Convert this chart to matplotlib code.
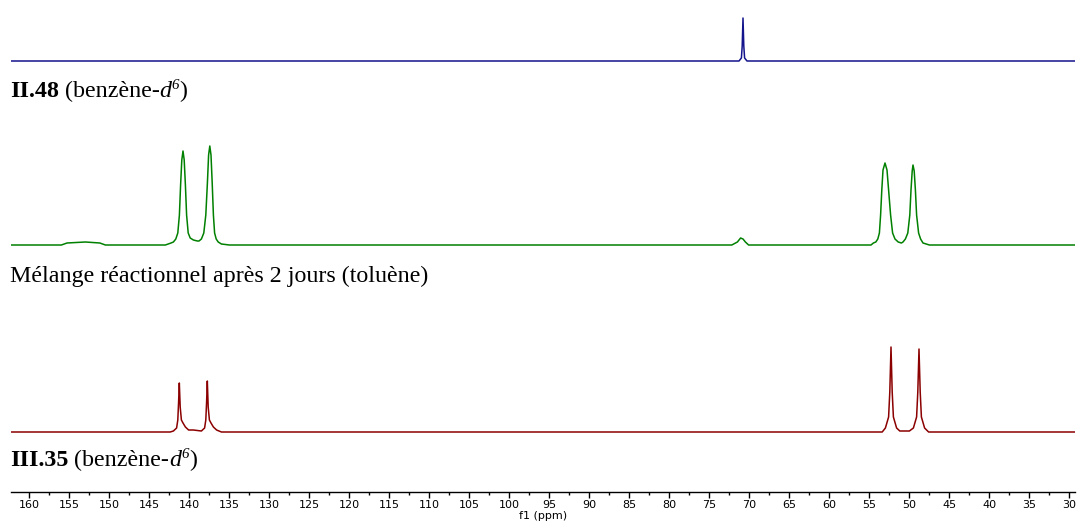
import numpy as np
import matplotlib
matplotlib.use("Agg")
import matplotlib.pyplot as plt

plt.rcParams['font.family'] = ['Liberation Serif', 'DejaVu Serif']

# --- Data: 13C spectra, vertices (ppm, intensity) ---
x_left, x_right = 162.3, 29.3

# II.48 (benzene-d6): single line near 71 ppm
blue_ppm = [162.3, 71.3, 71.0, 70.9, 70.8, 70.7, 70.6, 70.3, 29.3]
blue_int = [0.0,   0.0,  3.0,  15.0, 43.0, 15.0, 3.0,  0.0,  0.0]

# reaction mixture after 2 days (toluene)
green_ppm = [162.3, 156.0, 155.3, 153.0, 151.2, 150.5, 143.0,
             142.3, 142.0, 141.7, 141.45, 141.25, 141.1, 140.95, 140.8,
             140.65, 140.5, 140.35, 140.15, 139.9, 139.5, 139.0,
             138.8, 138.5, 138.2, 137.95, 137.75, 137.6, 137.45, 137.3,
             137.15, 137.0, 136.85, 136.65, 136.4, 136.0, 135.0,
             72.2, 71.5, 71.1, 70.8, 70.5, 70.1, 69.4,
             54.8, 54.5, 54.2, 53.95, 53.75, 53.6, 53.45, 53.3, 53.05, 52.8, 52.6,
             52.35, 52.1, 51.8, 51.4, 51.0,
             50.8, 50.5, 50.2, 49.95, 49.8, 49.65, 49.55, 49.4, 49.25, 49.1,
             48.85, 48.6, 48.3, 47.5, 29.3]
green_int = [0.0, 0.0, 2.0, 3.0, 2.0, 0.0, 0.0,
             2.0, 3.0, 6.0, 12.0, 30.0, 60.0, 85.0, 94.0,
             85.0, 60.0, 30.0, 12.0, 7.0, 5.0, 4.0,
             4.0, 6.0, 12.0, 30.0, 62.0, 90.0, 99.0, 90.0,
             62.0, 30.0, 12.0, 6.0, 3.0, 1.0, 0.0,
             0.0, 3.0, 7.0, 6.0, 3.0, 0.0, 0.0,
             0.0, 2.0, 3.0, 6.0, 12.0, 30.0, 55.0, 75.0, 82.0, 75.0, 55.0,
             30.0, 12.0, 6.0, 3.0, 2.0,
             3.0, 6.0, 12.0, 30.0, 55.0, 74.0, 80.0, 74.0, 55.0, 30.0,
             12.0, 6.0, 2.0, 0.0, 0.0]

# III.35 (benzene-d6)
red_ppm = [162.3, 142.4,
           142.0, 141.6, 141.45, 141.35, 141.26, 141.15, 141.0, 140.8, 140.5, 140.1,
           139.5,
           138.5, 138.1, 137.95, 137.85, 137.76, 137.65, 137.5, 137.3, 137.0, 136.6,
           136.0,
           53.4, 53.0, 52.6, 52.45, 52.3, 52.15, 52.0, 51.6, 51.2,
           50.0, 49.5, 49.1, 48.95, 48.8, 48.65, 48.5, 48.1, 47.6,
           29.3]
red_int = [0.0, 0.0,
           1.0, 4.0, 12.0, 30.0, 49.0, 25.0, 12.0, 9.0, 5.0, 2.0,
           2.0,
           1.0, 4.0, 12.0, 30.0, 51.0, 25.0, 12.0, 9.0, 5.0, 2.0,
           0.0,
           0.0, 4.0, 15.0, 40.0, 85.0, 40.0, 15.0, 4.0, 1.0,
           1.0, 4.0, 15.0, 40.0, 83.0, 40.0, 15.0, 4.0, 0.0,
           0.0]

assert len(blue_ppm) == len(blue_int)
assert len(green_ppm) == len(green_int)
assert len(red_ppm) == len(red_int)

# label pieces: (text, weight, style, superscript)
labels = [
    [("II.48", 'bold', 'normal', False), (" (benzène-", 'normal', 'normal', False),
     ("d", 'normal', 'italic', False), ("6", 'normal', 'italic', True),
     (")", 'normal', 'normal', False)],
    [("Mélange réactionnel après 2 jours (toluène)", 'normal', 'normal', False)],
    [("III.35", 'bold', 'normal', False), (" (benzène-", 'normal', 'normal', False),
     ("d", 'normal', 'italic', False), ("6", 'normal', 'italic', True),
     (")", 'normal', 'normal', False)],
]
label_baselines = [97, 282, 466]   # pixels from top

# --- Figure ---
W, H = 1078, 523
fig = plt.figure(figsize=(W / 100, H / 100), dpi=100)
ax = fig.add_axes([11 / W, 31 / H, (1075 - 11) / W, (H - 31) / H])

traces = [
    (blue_ppm, blue_int, 431, '#14148c'),
    (green_ppm, green_int, 247, '#008000'),
    (red_ppm, red_int, 60, '#8b0000'),
]
for ppm, inten, offset, color in traces:
    ax.plot(ppm, np.array(inten) + offset, color=color, linewidth=1.1)

ax.set_xlim(x_left, x_right)
ax.set_ylim(0, H - 31)

for s in ['top', 'left', 'right']:
    ax.spines[s].set_visible(False)
ax.spines['bottom'].set_linewidth(1.0)
ax.set_yticks([])
ax.set_xticks(np.arange(30, 161, 5))
ax.set_xticks(np.arange(32.5, 161, 5), minor=True)
ax.tick_params(axis='x', which='major', length=4, width=1, pad=1.5,
               labelsize=8, labelfontfamily='DejaVu Sans')
ax.tick_params(axis='x', which='minor', length=2.5, width=1)
ax.set_xlabel('f1 (ppm)', fontsize=8, family='DejaVu Sans', va='center')
ax.xaxis.set_label_coords(0.5, -0.048)
ax.set_facecolor('none')

# sample labels, built piece by piece
renderer = fig.canvas.get_renderer()
fs = 17.3
for pieces, y_px in zip(labels, label_baselines):
    x = 10.0
    for text, weight, style, sup in pieces:
        size = fs * 0.62 if sup else fs
        y = H - y_px + (fs * 0.45 if sup else 0)
        t = fig.text(x / W, y / H, text, fontsize=size, fontweight=weight,
                     fontstyle=style, ha='left', va='baseline')
        bb = t.get_window_extent(renderer)
        x += bb.width

fig.savefig('out.png', dpi=100)
